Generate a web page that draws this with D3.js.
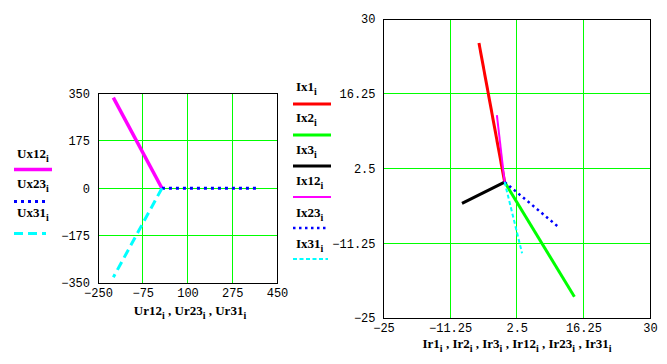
<!DOCTYPE html>
<html><head><meta charset="utf-8">
<script src="https://cdn.jsdelivr.net/npm/d3@7"></script>
<style>
html,body{margin:0;padding:0;background:#fff;}
svg{display:block;}
.tick text{font-family:"Liberation Mono",monospace;font-size:12px;fill:#000;}
.lbl{font-family:"Liberation Serif","Times New Roman",serif;font-weight:bold;font-size:13px;fill:#000;}
</style></head>
<body>
<svg id="c" width="667" height="364"></svg>
<script>
// ---- Left chart data (voltage phasors) ----
const Ur12 = [0, -190], Ux12 = [0, 335];
const Ur23 = [0, 380],  Ux23 = [0, 0];
const Ur31 = [0, -190], Ux31 = [0, -329];
const leftXTicks = [-250, -75, 100, 275, 450];
const leftYTicks = [-350, -175, 0, 175, 350];
const leftNames = ["Ux12", "Ux23", "Ux31"];
const leftTitle = ["Ur12", "Ur23", "Ur31"];

// ---- Right chart data (current phasors) ----
const Ir1 = [0, -5.3],  Ix1 = [0, 25.6];
const Ir2 = [0, 14.4],  Ix2 = [0, -21.1];
const Ir3 = [0, -8.8],  Ix3 = [0, -3.9];
const Ir12 = [0, -1.6], Ix12 = [0, 12.3];
const Ir23 = [0, 11.3], Ix23 = [0, -8.4];
const Ir31 = [0, 3.6],  Ix31 = [0, -13.1];
const rightXTicks = [-25, -11.25, 2.5, 16.25, 30];
const rightYTicks = [-25, -11.25, 2.5, 16.25, 30];
const rightNames = ["Ix1", "Ix2", "Ix3", "Ix12", "Ix23", "Ix31"];
const rightTitle = ["Ir1", "Ir2", "Ir3", "Ir12", "Ir23", "Ir31"];

const svg = d3.select("#c");
const fmt = d => String(d).replace("-", "\u2212");
const GRID = "#00ff00";

function panel(xs, ys, xt, yt, series) {
  const g = svg.append("g");
  const [x0, x1] = xs.range(), [y0, y1] = ys.range();
  // grid
  xt.slice(1, -1).forEach(v => g.append("line").attr("x1", xs(v)).attr("x2", xs(v))
    .attr("y1", y1).attr("y2", y0).attr("stroke", GRID).attr("stroke-width", 1).attr("shape-rendering","crispEdges"));
  yt.slice(1, -1).forEach(v => g.append("line").attr("y1", ys(v)).attr("y2", ys(v))
    .attr("x1", x0).attr("x2", x1).attr("stroke", GRID).attr("stroke-width", 1).attr("shape-rendering","crispEdges"));
  // frame
  g.append("rect").attr("x", x0).attr("y", y1).attr("width", x1 - x0).attr("height", y0 - y1)
    .attr("fill", "none").attr("stroke", "#000").attr("stroke-width", 1).attr("shape-rendering","crispEdges");
  // axes
  const ax = g.append("g").attr("transform", `translate(0,${y0})`)
    .call(d3.axisBottom(xs).tickValues(xt).tickSize(0).tickPadding(8).tickFormat(fmt));
  const ay = g.append("g").attr("transform", `translate(${x0},0)`)
    .call(d3.axisLeft(ys).tickValues(yt).tickSize(0).tickPadding(8).tickFormat(fmt));
  ax.select(".domain").remove(); ay.select(".domain").remove();
  ax.selectAll("text").attr("dy", "0.5em");
  // series
  const line = d3.line().x(d => xs(d[0])).y(d => ys(d[1]));
  series.forEach(s => {
    const pts = s.r.map((r, i) => [r, s.x[i]]);
    g.append("path").attr("d", line(pts)).attr("fill", "none")
      .attr("stroke", s.c).attr("stroke-width", s.w)
      .attr("stroke-dasharray", s.dash || null);
  });
}

function subLabel(x, y, name, anchor) {
  const t = svg.append("text").attr("class", "lbl").attr("x", x).attr("y", y).attr("text-anchor", anchor || "start");
  t.append("tspan").text(name);
  t.append("tspan").attr("dy", 4).attr("font-size", "10px").text("i");
  t.append("tspan").attr("dy", -4).text("");
  return t;
}

function titleLabel(cx, y, names) {
  const t = svg.append("text").attr("class", "lbl").attr("x", cx).attr("y", y).attr("text-anchor", "middle");
  names.forEach((n, k) => {
    t.append("tspan").attr("dy", k ? -4 : 0).text((k ? " , " : "") + n);
    t.append("tspan").attr("dy", 4).attr("font-size", "10px").text("i");
  });
}

// ---- left panel ----
const lx = d3.scaleLinear().domain([-250, 450]).range([98, 277]);
const ly = d3.scaleLinear().domain([-350, 350]).range([283, 93.5]);
const leftSeries = [
  {r: Ur12, x: Ux12, c: "#ff00ff", w: 3.5},
  {r: Ur23, x: Ux23, c: "#0000ff", w: 3, dash: "3,4"},
  {r: Ur31, x: Ux31, c: "#00ffff", w: 3, dash: "9,5"}
];
panel(lx, ly, leftXTicks, leftYTicks, leftSeries);
titleLabel(190, 315, leftTitle);

// left legend
leftSeries.forEach((s, k) => {
  subLabel(17, 158 + k * 29.5, leftNames[k]);
  const y = 169.5 + k * 32;
  svg.append("line").attr("x1", 14).attr("x2", s.dash ? 46 : 52).attr("y1", y).attr("y2", y)
    .attr("stroke", s.c).attr("stroke-width", s.w).attr("stroke-dasharray", s.dash || null);
});

// ---- right panel ----
const rx = d3.scaleLinear().domain([-25, 30]).range([383.5, 650]);
const ry = d3.scaleLinear().domain([-25, 30]).range([318, 19]);
const rightSeries = [
  {r: Ir1, x: Ix1, c: "#ff0000", w: 3},
  {r: Ir2, x: Ix2, c: "#00ff00", w: 3},
  {r: Ir3, x: Ix3, c: "#000000", w: 3},
  {r: Ir12, x: Ix12, c: "#ff00ff", w: 2},
  {r: Ir23, x: Ix23, c: "#0000ff", w: 2.5, dash: "2.5,3.5"},
  {r: Ir31, x: Ix31, c: "#00ffff", w: 2, dash: "4,2.5"}
];
panel(rx, ry, rightXTicks, rightYTicks, rightSeries);
titleLabel(517, 348, rightTitle);

// right legend
rightSeries.forEach((s, k) => {
  subLabel(296, 91 + k * 31.4, rightNames[k]);
  const y = 104 + k * 31;
  svg.append("line").attr("x1", 293).attr("x2", s.dash ? 328 : 331).attr("y1", y).attr("y2", y)
    .attr("stroke", s.c).attr("stroke-width", s.w).attr("stroke-dasharray", s.dash || null);
});
</script>
</body></html>
